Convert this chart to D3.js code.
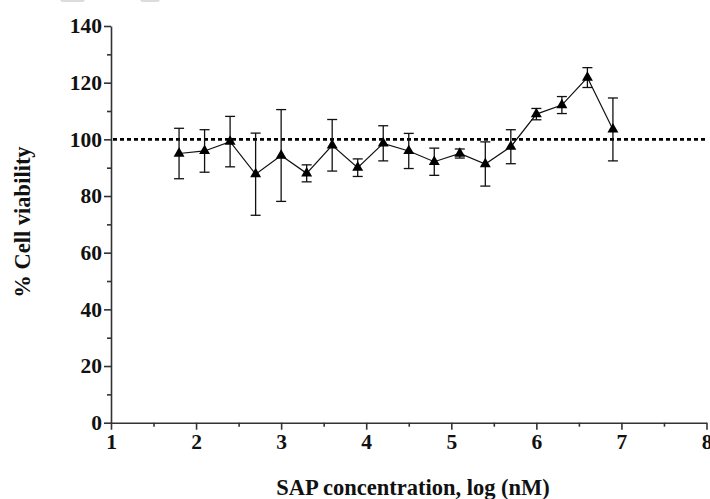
<!DOCTYPE html>
<html>
<head>
<meta charset="utf-8">
<script src="https://cdn.jsdelivr.net/npm/d3@7"></script>
<style>
  body { margin: 0; background: #fff; }
  text { font-family: "Liberation Serif", "Times New Roman", serif; font-weight: bold; fill: #111; }
</style>
</head>
<body>
<svg id="chart" width="710" height="499"></svg>
<script>
// data
var logConc = [1.8, 2.1, 2.4, 2.7, 3.0, 3.3, 3.6, 3.9, 4.2, 4.5, 4.8, 5.1, 5.4, 5.7, 6.0, 6.3, 6.6, 6.9];
var viability = [95.0, 95.9, 99.2, 87.7, 94.3, 88.0, 97.9, 90.0, 98.6, 95.9, 92.1, 95.0, 91.3, 97.4, 108.9, 112.1, 121.8, 103.5];
var errSD = [8.9, 7.5, 8.9, 14.5, 16.2, 3.0, 9.1, 3.1, 6.2, 6.2, 4.8, 1.6, 7.8, 6.0, 2.0, 3.0, 3.5, 11.1];
var xTicks = [1, 2, 3, 4, 5, 6, 7, 8];
var yTicks = [0, 20, 40, 60, 80, 100, 120, 140];
var refLine = 100;

var svg = d3.select("#chart");
// note: "top" is taken by window.top, so plot edges get their own names
var plotLeft = 111, plotRight = 706.5, plotTop = 26, plotBottom = 422.7;

var x = d3.scaleLinear().domain([1, 8]).range([plotLeft, plotRight]);
var y = d3.scaleLinear().domain([0, 140]).range([plotBottom, plotTop]);

// faint leftovers of a cropped legend at the top edge
svg.append("rect").attr("x", 60).attr("y", -4).attr("width", 25).attr("height", 6)
    .attr("rx", 3).attr("fill", "#dcdcdc");
svg.append("rect").attr("x", 140).attr("y", -4).attr("width", 20).attr("height", 6)
    .attr("rx", 3).attr("fill", "#dcdcdc");

// axes
var axisColor = "#333";

var yAxis = svg.append("g")
    .attr("transform", "translate(" + plotLeft + ",0)")
    .call(d3.axisLeft(y).tickValues(yTicks).tickFormat(d3.format("d")).tickSize(7).tickPadding(2).tickSizeOuter(0));
var yMinor = svg.append("g")
    .attr("transform", "translate(" + plotLeft + ",0)")
    .call(d3.axisLeft(y).tickValues(d3.range(10, 140, 20)).tickSize(4).tickFormat("").tickSizeOuter(0));

var xAxis = svg.append("g")
    .attr("transform", "translate(0," + plotBottom + ")")
    .call(d3.axisBottom(x).tickValues(xTicks).tickFormat(d3.format("d")).tickSize(7).tickPadding(4).tickSizeOuter(0));
var xMinor = svg.append("g")
    .attr("transform", "translate(0," + plotBottom + ")")
    .call(d3.axisBottom(x).tickValues(d3.range(1.5, 8, 1)).tickSize(4).tickFormat("").tickSizeOuter(0));

[yAxis, yMinor, xAxis, xMinor].forEach(function(g) {
    g.selectAll("path, line").attr("stroke", axisColor).attr("stroke-width", 1.6);
    g.selectAll("text").style("font-size", "21.5px").attr("fill", "#111");
});
yMinor.select(".domain").remove();
xMinor.select(".domain").remove();

// dotted reference line at 100%
svg.append("line")
    .attr("x1", x(1) + 2).attr("x2", x(8))
    .attr("y1", y(refLine)).attr("y2", y(refLine))
    .attr("stroke", "#000")
    .attr("stroke-width", 2.8)
    .attr("stroke-dasharray", "4,3");

// error bars
var bars = svg.append("g").selectAll("g")
    .data(logConc)
    .enter().append("g");

bars.append("line")
    .attr("x1", function(d) { return x(d); })
    .attr("x2", function(d) { return x(d); })
    .attr("y1", function(d, i) { return y(viability[i] + errSD[i]); })
    .attr("y2", function(d, i) { return y(viability[i] - errSD[i]); })
    .attr("stroke", "#111").attr("stroke-width", 1.3);
bars.append("line")
    .attr("x1", function(d) { return x(d) - 5; })
    .attr("x2", function(d) { return x(d) + 5; })
    .attr("y1", function(d, i) { return y(viability[i] + errSD[i]); })
    .attr("y2", function(d, i) { return y(viability[i] + errSD[i]); })
    .attr("stroke", "#111").attr("stroke-width", 1.3);
bars.append("line")
    .attr("x1", function(d) { return x(d) - 5; })
    .attr("x2", function(d) { return x(d) + 5; })
    .attr("y1", function(d, i) { return y(viability[i] - errSD[i]); })
    .attr("y2", function(d, i) { return y(viability[i] - errSD[i]); })
    .attr("stroke", "#111").attr("stroke-width", 1.3);

// connecting line
var line = d3.line()
    .x(function(d) { return x(d); })
    .y(function(d, i) { return y(viability[i]); });

svg.append("path")
    .datum(logConc)
    .attr("d", line)
    .attr("fill", "none")
    .attr("stroke", "#111")
    .attr("stroke-width", 1.2);

// triangle markers
svg.append("g").selectAll("path")
    .data(logConc)
    .enter().append("path")
    .attr("d", d3.symbol().type(d3.symbolTriangle).size(52))
    .attr("transform", function(d, i) { return "translate(" + x(d) + "," + y(viability[i]) + ")"; })
    .attr("fill", "#000");

// axis titles
svg.append("text")
    .attr("text-anchor", "middle")
    .attr("x", 413)
    .attr("y", 495)
    .style("font-size", "22.5px")
    .text("SAP concentration, log (nM)");

svg.append("text")
    .attr("text-anchor", "middle")
    .attr("transform", "translate(30,222) rotate(-90)")
    .style("font-size", "22.5px")
    .text("% Cell viability");
</script>
</body>
</html>
